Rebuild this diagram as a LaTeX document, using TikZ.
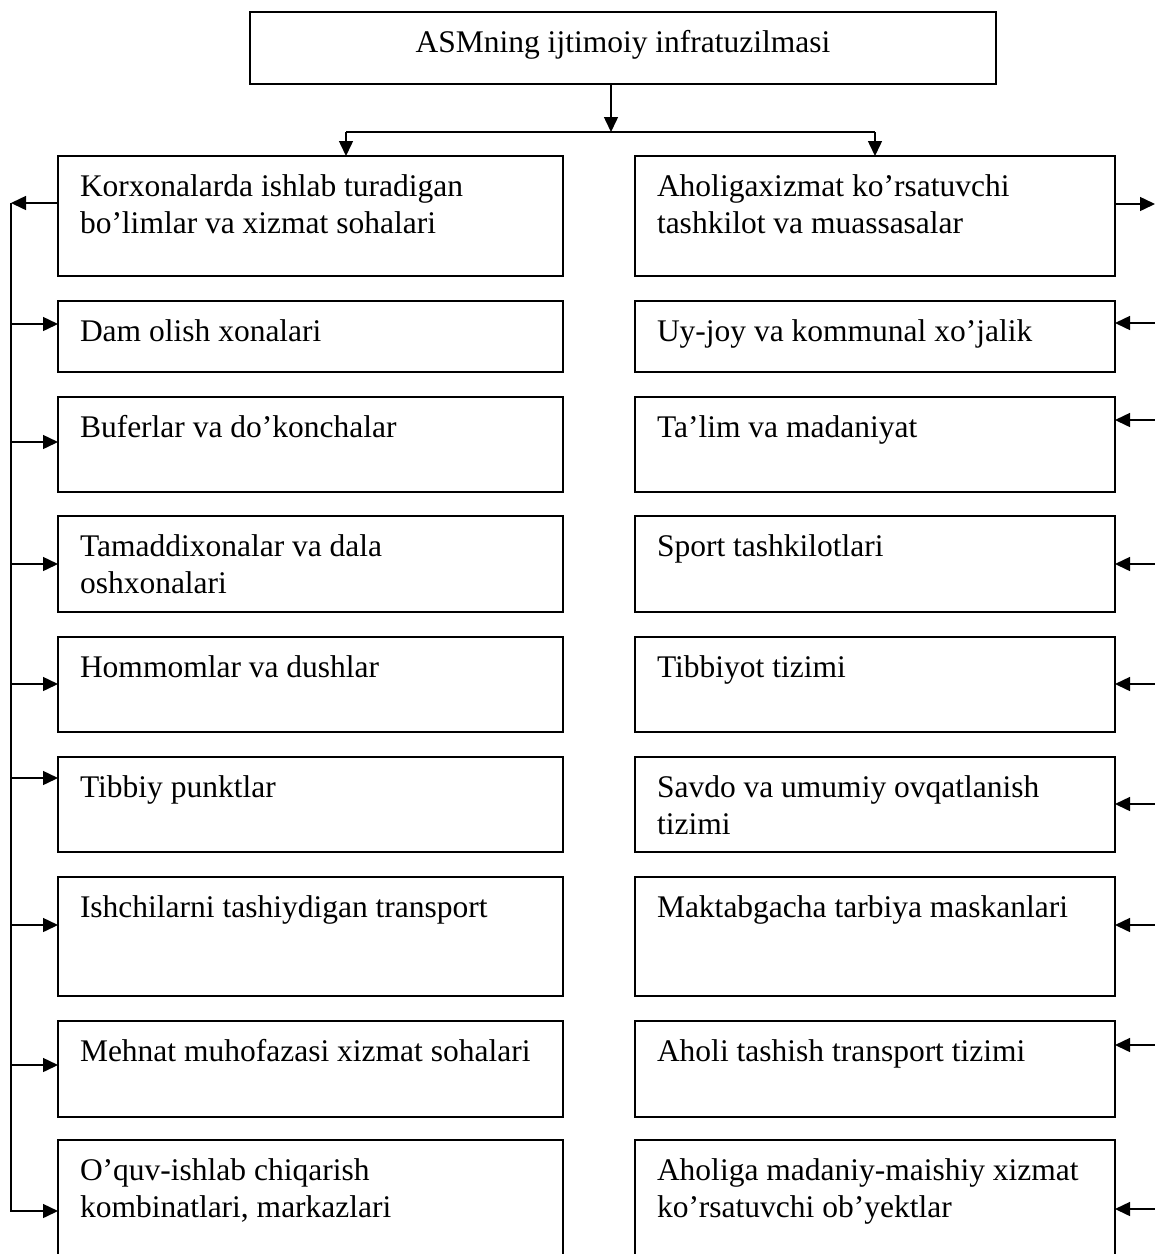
\documentclass[tikz,border=0pt]{standalone}
\usepackage{fontspec}
\setmainfont{Liberation Serif}
\usetikzlibrary{arrows.meta}
\newcommand\mycell[3]{\parbox[t][#1][t]{#2}{\raggedright\rule{0pt}{40pt}#3}}
\begin{document}
\begin{tikzpicture}[x=1pt,y=-1pt,
  box/.style={draw, line width=1.8pt, inner xsep=22pt, inner ysep=0pt, outer sep=0pt,
    anchor=north west, font=\fontsize{31.5}{37}\selectfont},
  arr/.style={line width=1.5pt, -{Triangle[length=15pt,width=14pt]}},
  ln/.style={line width=1.5pt}]
\clip (0,0) rectangle (1155,1254);
\fill[white] (0,0) rectangle (1155,1254);
% top
\node[box] (top) at (250,12) {\parbox[t][72pt][t]{702pt}{\centering\rule{0pt}{40pt}ASMning ijtimoiy infratuzilmasi}};
% left column
\node[box] (l1) at (58,156) {\mycell{120pt}{461pt}{Korxonalarda ishlab turadigan\\bo’limlar va xizmat sohalari}};
\node[box] (l2) at (58,301) {\mycell{71pt}{461pt}{Dam olish xonalari}};
\node[box] (l3) at (58,397) {\mycell{95pt}{461pt}{Buferlar va do’konchalar}};
\node[box] (l4) at (58,516) {\mycell{96pt}{461pt}{Tamaddixonalar va dala\\oshxonalari}};
\node[box] (l5) at (58,637) {\mycell{95pt}{461pt}{Hommomlar va dushlar}};
\node[box] (l6) at (58,757) {\mycell{95pt}{461pt}{Tibbiy punktlar}};
\node[box] (l7) at (58,877) {\mycell{119pt}{461pt}{Ishchilarni tashiydigan transport}};
\node[box] (l8) at (58,1021) {\mycell{96pt}{461pt}{Mehnat muhofazasi xizmat sohalari}};
\node[box] (l9) at (58,1140) {\mycell{130pt}{461pt}{O’quv-ishlab chiqarish\\kombinatlari, markazlari}};
% right column
\node[box] (r1) at (635,156) {\mycell{120pt}{436pt}{Aholigaxizmat ko’rsatuvchi\\tashkilot va muassasalar}};
\node[box] (r2) at (635,301) {\mycell{71pt}{436pt}{Uy-joy va kommunal xo’jalik}};
\node[box] (r3) at (635,397) {\mycell{95pt}{436pt}{Ta’lim va madaniyat}};
\node[box] (r4) at (635,516) {\mycell{96pt}{436pt}{Sport tashkilotlari}};
\node[box] (r5) at (635,637) {\mycell{95pt}{436pt}{Tibbiyot tizimi}};
\node[box] (r6) at (635,757) {\mycell{95pt}{436pt}{Savdo va umumiy ovqatlanish\\tizimi}};
\node[box] (r7) at (635,877) {\mycell{119pt}{436pt}{Maktabgacha tarbiya maskanlari}};
\node[box] (r8) at (635,1021) {\mycell{96pt}{436pt}{Aholi tashish transport tizimi}};
\node[box] (r9) at (635,1140) {\mycell{130pt}{436pt}{Aholiga madaniy-maishiy xizmat\\ko’rsatuvchi ob’yektlar}};
% top connectors
\coordinate (j) at (611,132);
\coordinate (jl) at (346,132);
\coordinate (jr) at (875,132);
\draw[arr] (top.south -| j) -- (j);
\draw[ln] (jl) -- (jr);
\draw[arr] (jl) -- (jl |- l1.north);
\draw[arr] (jr) -- (jr |- r1.north);
% left bus
\foreach \i/\y in {1/203,2/324,3/442,4/564,5/684,6/778,7/925,8/1065,9/1211}
  \coordinate (la\i) at (11,\y);
\draw[arr] (la1 -| l1.west) -- (la1);
\draw[arr] (la1) -- (la9) -- (la9 -| l9.west);
\foreach \i in {2,...,8}
  \draw[arr] (la\i) -- (la\i -| l\i.west);
% right bus
\foreach \i/\y in {1/204,2/323,3/420,4/564,5/684,6/804,7/925,8/1045,9/1209}
  \coordinate (ra\i) at (1155,\y);
\draw[arr] (ra1 -| r1.east) -- (ra1);
\foreach \i in {2,...,9}
  \draw[arr] (ra\i) -- (ra\i -| r\i.east);
\end{tikzpicture}
\end{document}
